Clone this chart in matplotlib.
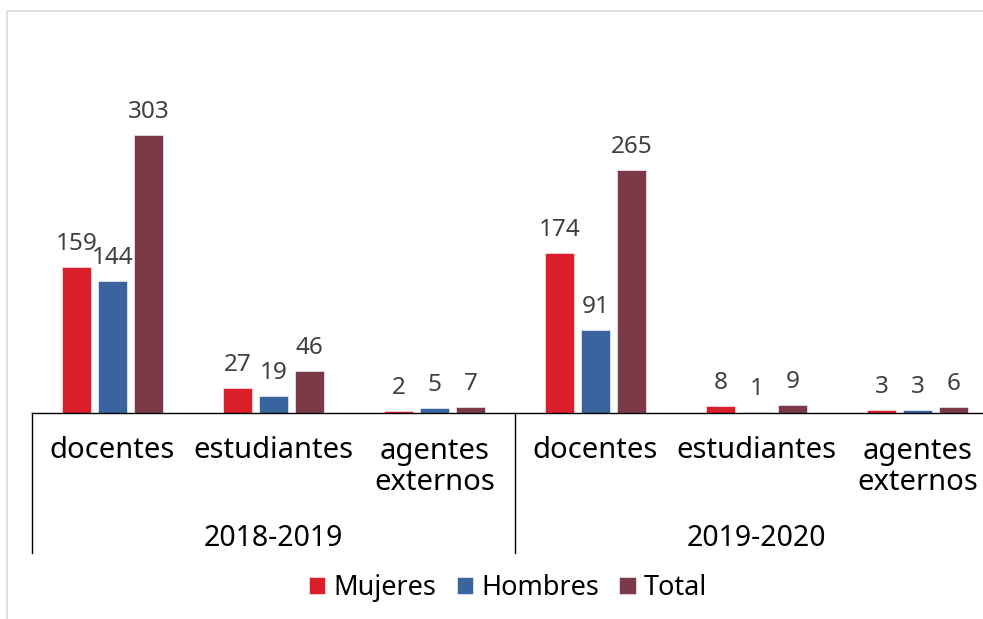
import matplotlib
matplotlib.use('Agg')
import matplotlib.pyplot as plt
from matplotlib.patches import Rectangle
import matplotlib.transforms as mtransforms

plt.rcParams['font.family'] = ['Noto Sans', 'DejaVu Sans']

# Data
years = ['2018-2019', '2019-2020']
categories = ['docentes', 'estudiantes', 'agentes\nexternos'] * 2
mujeres = [159, 27, 2, 174, 8, 3]
hombres = [144, 19, 5, 91, 1, 3]
total = [303, 46, 7, 265, 9, 6]
series_names = ['Mujeres', 'Hombres', 'Total']
colors = ['#DA1F2A', '#3A64A0', '#7B3A48']

W, H = 983, 619
fig = plt.figure(figsize=(W / 100, H / 100), dpi=100)

# light chart border (cropped at right/bottom)
fig.patches.append(Rectangle((7 / W, -0.1), 1.2, 1 - 11 / H + 0.1, transform=fig.transFigure,
                             fill=False, edgecolor='#D9D9D9', linewidth=1.2))

# plot area: x from 32px to 998px, baseline at y=413
ax = fig.add_axes([32 / W, 1 - 413 / H, 966 / W, 321 / H])
ax.set_xlim(0, 6)
ax.set_ylim(0, 350)
for s in ['top', 'right', 'left']:
    ax.spines[s].set_visible(False)
ax.spines['bottom'].set_color('black')
ax.spines['bottom'].set_linewidth(1.0)
ax.set_xticks([])
ax.set_yticks([])

width = 0.174
step = 0.2236
for k, (name, vals, c) in enumerate(zip(series_names, [mujeres, hombres, total], colors)):
    xs = [i + 0.5 + (k - 1) * step for i in range(len(vals))]
    ax.bar(xs, vals, width=width, color=c, edgecolor='white', linewidth=0.4, label=name)
    for x, v in zip(xs, vals):
        ax.annotate(str(v), xy=(x, v), xytext=(0, 23), textcoords='offset pixels',
                    ha='center', va='center', fontsize=17.5, color='#404040')

# category labels
for i, lab in enumerate(categories):
    if '\n' in lab:
        ax.annotate(lab, xy=(i + 0.5, 0), xycoords=('data', 'axes fraction'),
                    xytext=(0, -54), textcoords='offset pixels',
                    ha='center', va='center', fontsize=21, color='black', linespacing=1.1)
    else:
        ax.annotate(lab, xy=(i + 0.5, 0), xycoords=('data', 'axes fraction'),
                    xytext=(0, -38), textcoords='offset pixels',
                    ha='center', va='center', fontsize=21, color='black')

# year labels
for j, yr in enumerate(years):
    ax.annotate(yr, xy=(j * 3 + 1.5, 0), xycoords=('data', 'axes fraction'),
                xytext=(0, -125), textcoords='offset pixels',
                ha='center', va='center', fontsize=20.5, color='black')

# separators of multi-level axis
trans = mtransforms.blended_transform_factory(ax.transData, ax.transAxes)
for xv in [0, 3, 6]:
    ax.plot([xv, xv], [0, -140 / 321], transform=trans, color='black', linewidth=1.0, clip_on=False)

fig.legend(loc='center', bbox_to_anchor=(508 / W, 1 - 588 / H), ncol=3, frameon=False,
           fontsize=19.5, handlelength=0.6, handleheight=0.6, handletextpad=0.3,
           columnspacing=0.75)

fig.savefig('out.png', dpi=100)
